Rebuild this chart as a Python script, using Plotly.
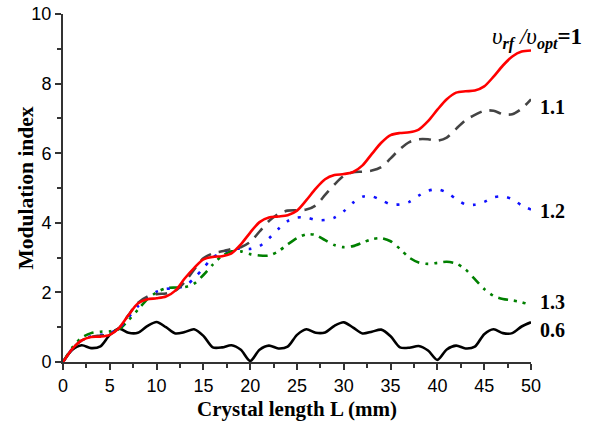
import plotly.graph_objects as go

# Crystal length sampled every 1 mm
length_mm = list(range(0, 51))

# Modulation index for each frequency ratio v_rf / v_opt
index_1_0 = [0, 0.38, 0.62, 0.72, 0.73, 0.78, 0.98, 1.35, 1.68, 1.80, 1.83,
             1.88, 2.05, 2.40, 2.70, 2.95, 3.02, 3.04, 3.12, 3.38, 3.72,
             4.02, 4.15, 4.18, 4.22, 4.35, 4.65, 4.98, 5.25, 5.37, 5.40,
             5.46, 5.65, 5.98, 6.30, 6.52, 6.58, 6.60, 6.68, 6.92, 7.25,
             7.55, 7.74, 7.78, 7.80, 7.92, 8.20, 8.52, 8.78, 8.92, 8.95]

index_1_1 = [0, 0.38, 0.62, 0.72, 0.76, 0.80, 0.98, 1.35, 1.70, 1.88, 1.95,
             1.97, 2.05, 2.30, 2.65, 2.98, 3.12, 3.18, 3.25, 3.30, 3.45,
             3.75, 4.05, 4.25, 4.35, 4.36, 4.38, 4.50, 4.80, 5.10, 5.35,
             5.45, 5.47, 5.50, 5.60, 5.85, 6.12, 6.32, 6.40, 6.40, 6.36,
             6.45, 6.70, 6.95, 7.10, 7.22, 7.22, 7.12, 7.12, 7.28, 7.55]

index_1_2 = [0, 0.38, 0.62, 0.74, 0.78, 0.83, 0.97, 1.28, 1.60, 1.85, 2.02,
             2.10, 2.12, 2.18, 2.40, 2.70, 3.00, 3.15, 3.24, 3.26, 3.25,
             3.33, 3.55, 3.82, 4.05, 4.15, 4.15, 4.08, 4.08, 4.15, 4.33,
             4.58, 4.75, 4.76, 4.65, 4.53, 4.53, 4.60, 4.78, 4.92, 4.96,
             4.87, 4.68, 4.53, 4.52, 4.60, 4.73, 4.76, 4.68, 4.50, 4.38]

index_1_3 = [0, 0.42, 0.70, 0.83, 0.87, 0.88, 0.95, 1.20, 1.50, 1.80, 2.00,
             2.12, 2.14, 2.15, 2.25, 2.50, 2.80, 3.05, 3.18, 3.18, 3.10,
             3.06, 3.06, 3.18, 3.38, 3.56, 3.67, 3.65, 3.50, 3.36, 3.30,
             3.33, 3.43, 3.53, 3.56, 3.47, 3.25, 3.00, 2.86, 2.82, 2.85,
             2.88, 2.83, 2.66, 2.38, 2.10, 1.90, 1.81, 1.77, 1.72, 1.63]

index_0_6 = [0, 0.35, 0.48, 0.40, 0.45, 0.78, 0.96, 0.84, 0.84, 1.03, 1.15,
             1.00, 0.82, 0.86, 0.94, 0.75, 0.42, 0.42, 0.48, 0.35, 0.03,
             0.35, 0.47, 0.39, 0.44, 0.78, 0.94, 0.84, 0.85, 1.04, 1.14,
             0.99, 0.82, 0.87, 0.93, 0.74, 0.42, 0.41, 0.46, 0.33, 0.06,
             0.36, 0.47, 0.39, 0.44, 0.80, 0.94, 0.83, 0.83, 1.02, 1.14]

tick_x = [0, 5, 10, 15, 20, 25, 30, 35, 40, 45, 50]
tick_y = [0, 2, 4, 6, 8, 10]

# Ratio labels written next to each curve's end (ratio text, modulation index level)
end_labels = [("1.1", 7.34), ("1.2", 4.34), ("1.3", 1.73), ("0.6", 0.93)]

series = [
    (index_0_6, "#000000", "solid"),
    (index_1_3, "#008000", "10px,6px,3px,6px,3px,6px"),
    (index_1_2, "#1010ff", "3px,9px"),
    (index_1_1, "#444444", "12px,8px"),
    (index_1_0, "#ff0000", "solid"),
]

fig = go.Figure()
for values, color, dash in series:
    fig.add_trace(go.Scatter(
        x=length_mm, y=values, mode="lines",
        line=dict(color=color, width=2.6, dash=dash, shape="spline", smoothing=0.8),
        showlegend=False,
    ))

serif_bold = dict(family="Liberation Serif", size=20, color="#000000")

for text, yv in end_labels:
    fig.add_annotation(x=1.045, y=yv / 10, xref="paper", yref="paper", text=f"<b>{text}</b>",
                       showarrow=False, font=serif_bold, xanchor="center", yanchor="middle")

fig.add_annotation(
    x=1.013, y=0.931, xref="paper", yref="paper",
    text="<i>υ</i><sub><b><i>rf</i></b></sub> <i>/υ</i><sub><b><i>opt</i></b></sub><b>=1</b>",
    showarrow=False, font=dict(family="Liberation Serif", size=23, color="#000000"),
    xanchor="center", yanchor="middle",
)

# Axis titles
fig.add_annotation(
    x=-0.078, y=0.5, xref="paper", yref="paper", text="<b>Modulation index</b>",
    textangle=-90, showarrow=False, xanchor="center", yanchor="middle",
    font=dict(family="Liberation Serif", size=21.5, color="#000000"),
)
fig.add_annotation(
    x=0.5, y=-0.134, xref="paper", yref="paper", text="<b>Crystal length L (mm)</b>",
    showarrow=False, xanchor="center", yanchor="middle",
    font=dict(family="Liberation Serif", size=21, color="#000000"),
)

axis_common = dict(
    showline=True, linecolor="#333333", linewidth=2, mirror=False,
    ticks="outside", ticklen=6, tickwidth=2, tickcolor="#333333",
    showgrid=False, zeroline=False, automargin=False,
    tickfont=dict(family="Liberation Sans", size=18, color="#000000"),
)

fig.update_xaxes(
    range=[0, 50], tickvals=tick_x,
    minor=dict(dtick=2.5, ticks="outside", ticklen=4, tickwidth=1.5, tickcolor="#333333"),
    **axis_common,
)
fig.update_yaxes(
    range=[0, 10], tickvals=tick_y,
    minor=dict(dtick=1, ticks="outside", ticklen=4, tickwidth=1.5, tickcolor="#333333"),
    **axis_common,
)

fig.update_layout(
    width=593, height=423,
    margin=dict(l=63, r=62, t=14, b=61),
    paper_bgcolor="#ffffff", plot_bgcolor="#ffffff",
)

fig.write_html("out.html")
